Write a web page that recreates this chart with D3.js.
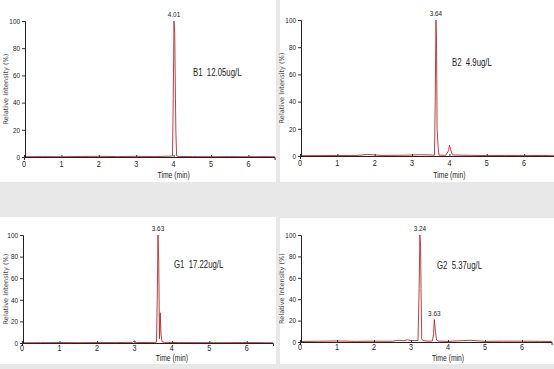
<!DOCTYPE html>
<html><head><meta charset="utf-8">
<script src="https://cdn.jsdelivr.net/npm/d3@7"></script>
<style>
html,body{margin:0;padding:0;background:#e8e8e8;}
svg{display:block;}
text{white-space:pre;}
</style></head>
<body>
<svg id="chart" width="554" height="369"></svg>
<script>
// ---- data ----
const panelNames = ["B1", "B2", "G1", "G2"];
const annotations = ["B1  12.05ug/L", "B2  4.9ug/L", "G1  17.22ug/L", "G2  5.37ug/L"];
const xTicks = [0, 1, 2, 3, 4, 5, 6];
const yTicks = [0, 20, 40, 60, 80, 100];

const b1Time = [0, 0.5, 1.0, 1.5, 2.0, 2.5, 3.0, 3.5, 3.9, 3.97, 3.99, 4.01, 4.03, 4.045, 4.06, 4.08, 4.12, 4.5, 5.0, 5.5, 6.0, 6.5, 6.7];
const b1Int  = [0.2, 0.3, 0.2, 0.4, 0.5, 0.3, 0.5, 0.3, 0.6, 0.8, 43, 100, 91, 53, 19, 0.8, 0.4, 0.3, 0.2, 0.3, 0.2, 0.3, 0.2];

const b2Time = [0, 0.5, 1.0, 1.5, 1.8, 2.2, 2.8, 3.2, 3.5, 3.6, 3.62, 3.64, 3.655, 3.67, 3.7, 3.72, 3.9, 3.98, 4.0, 4.03, 4.08, 4.2, 4.6, 5.0, 5.5, 6.0, 6.5, 6.8];
const b2Int  = [0.2, 0.3, 0.4, 0.3, 1.2, 0.4, 0.6, 0.9, 0.8, 0.6, 40, 100, 83, 20, 6, 0.6, 0.5, 4, 8, 5, 0.8, 0.7, 0.5, 0.3, 0.4, 0.3, 0.4, 0.2];

const g1Time = [0, 0.5, 1.0, 1.5, 2.0, 2.5, 2.95, 3.0, 3.05, 3.5, 3.59, 3.61, 3.63, 3.65, 3.67, 3.69, 3.71, 3.74, 3.8, 4.2, 5.0, 5.5, 6.0, 6.5, 6.7];
const g1Int  = [0.2, 0.3, 0.4, 0.3, 0.4, 0.4, 0.6, 1.8, 0.5, 0.4, 0.8, 40, 100, 75, 4, 28, 8, 1.2, 0.6, 0.4, 0.3, 0.3, 0.4, 0.3, 0.2];

const g2Time = [0, 0.5, 1.0, 1.5, 2.0, 2.5, 2.6, 2.7, 2.8, 2.9, 3.0, 3.1, 3.19, 3.22, 3.24, 3.26, 3.27, 3.29, 3.32, 3.4, 3.5, 3.58, 3.61, 3.63, 3.66, 3.69, 3.75, 4.0, 4.6, 5.0, 5.5, 6.0, 6.5, 6.8];
const g2Int  = [0.5, 0.7, 1.0, 0.6, 0.8, 0.7, 1.4, 1.6, 1.2, 2.0, 1.3, 1.4, 1.3, 50, 100, 88, 50, 3, 1.3, 1.0, 0.8, 1.0, 8, 21, 10, 2, 0.8, 0.6, 1.6, 0.6, 0.8, 0.8, 0.6, 0.5];

const peakLabels = [
  [{t: 4.01, v: 100, text: "4.01"}],
  [{t: 3.64, v: 100, text: "3.64"}],
  [{t: 3.63, v: 100, text: "3.63"}],
  [{t: 3.24, v: 100, text: "3.24"}, {t: 3.63, v: 21, text: "3.63"}]
];
const seriesTime = [b1Time, b2Time, g1Time, g2Time];
const seriesInt = [b1Int, b2Int, g1Int, g2Int];

// ---- layout ----
const panels = [
  {px: 0,   py: 0,   pw: 276, ph: 182, x0: 24,  x1: 274.6, xMax: 6.7, yTop: 21,  yBot: 157, annX: 193, annY: 76,  tickY: 167, titleY: 178, ylabX: 8},
  {px: 280, py: 0,   pw: 274, ph: 182, x0: 300, x1: 554,   xMax: 6.8, yTop: 20,  yBot: 156, annX: 452, annY: 66,  tickY: 166, titleY: 178, ylabX: 284},
  {px: 0,   py: 217, pw: 276, ph: 147, x0: 22,  x1: 273,   xMax: 6.7, yTop: 235, yBot: 343, annX: 174, annY: 268, tickY: 351, titleY: 361, ylabX: 8},
  {px: 280, py: 218, pw: 274, ph: 146, x0: 300, x1: 551.6, xMax: 6.8, yTop: 235, yBot: 342, annX: 437, annY: 269, tickY: 350, titleY: 361, ylabX: 284}
];

const svg = d3.select("#chart");
svg.append("rect").attr("width", 554).attr("height", 369).attr("fill", "#e8e8e8");

const narrowFont = "'Liberation Sans',Arial,sans-serif";
function narrowText(g, x, y, txt, size, anchor, sx) {
  return g.append("text")
    .attr("transform", `translate(${x},${y}) scale(${sx || 0.78},1)`)
    .attr("text-anchor", anchor || "start")
    .attr("xml:space", "preserve")
    .attr("font-family", narrowFont).attr("font-size", size).attr("fill", "#222").text(txt);
}

panels.forEach((p, i) => {
  const g = svg.append("g");
  g.append("rect").attr("x", p.px).attr("y", p.py).attr("width", p.pw).attr("height", p.ph).attr("fill", "#fff");

  const x = d3.scaleLinear().domain([0, p.xMax]).range([p.x0, p.x1]);
  const y = d3.scaleLinear().domain([0, 100]).range([p.yBot, p.yTop]);

  // trace (drawn first so axis overlays baseline)
  const pts = seriesTime[i].map((t, k) => [t, seriesInt[i][k]]);
  g.append("path").datum(pts)
    .attr("d", d3.line().x(d => x(d[0])).y(d => y(d[1])))
    .attr("fill", "none").attr("stroke", "#b8282d").attr("stroke-width", 0.9);

  // x axis
  const xa = g.append("g").attr("transform", `translate(0,${p.yBot})`);
  xa.call(d3.axisBottom(x).tickValues(d3.range(0, p.xMax + 0.001, 0.2)).tickSize(2).tickFormat(""));
  xa.call(d3.axisBottom(x).tickValues(xTicks).tickSize(3).tickFormat(""));
  xa.selectAll(".domain").attr("stroke", "#222").attr("stroke-width", 1);
  xa.selectAll(".tick line").attr("stroke", "#333").attr("transform", "translate(0,-2)");
  xTicks.forEach(t => narrowText(g, x(t), p.tickY, t, 8.5, "middle", 0.85));
  narrowText(g, x(4), p.titleY, "Time (min)", 8.5, "middle", 0.8);

  // y axis
  const ya = g.append("g").attr("transform", `translate(${p.x0 + 1},0)`);
  ya.call(d3.axisLeft(y).tickValues(d3.range(10, 100, 20)).tickSize(1.5).tickFormat(""));
  ya.call(d3.axisLeft(y).tickValues(yTicks).tickSize(3).tickFormat(""));
  ya.selectAll(".domain").attr("stroke", "#222").attr("stroke-width", 1);
  ya.selectAll(".tick line").attr("stroke", "#333");
  yTicks.forEach(v => narrowText(g, p.x0 - 4, y(v) + 2.8, v, 8, "end", 0.8));
  const cy = (p.yTop + p.yBot) / 2;
  g.append("text").attr("transform", `translate(${p.ylabX},${cy}) rotate(-90)`).attr("text-anchor", "middle")
    .attr("font-family", "'DejaVu Sans',sans-serif").attr("font-size", 6.6).attr("fill", "#444")
    .text("Relative Intensity (%)");

  // peak labels
  peakLabels[i].forEach(l => narrowText(g, x(l.t), y(l.v) - 4, l.text, 8, "middle", 0.8));

  // annotation
  narrowText(g, p.annX, p.annY, annotations[i], 10, "start", 0.78);
});
</script>
</body></html>
